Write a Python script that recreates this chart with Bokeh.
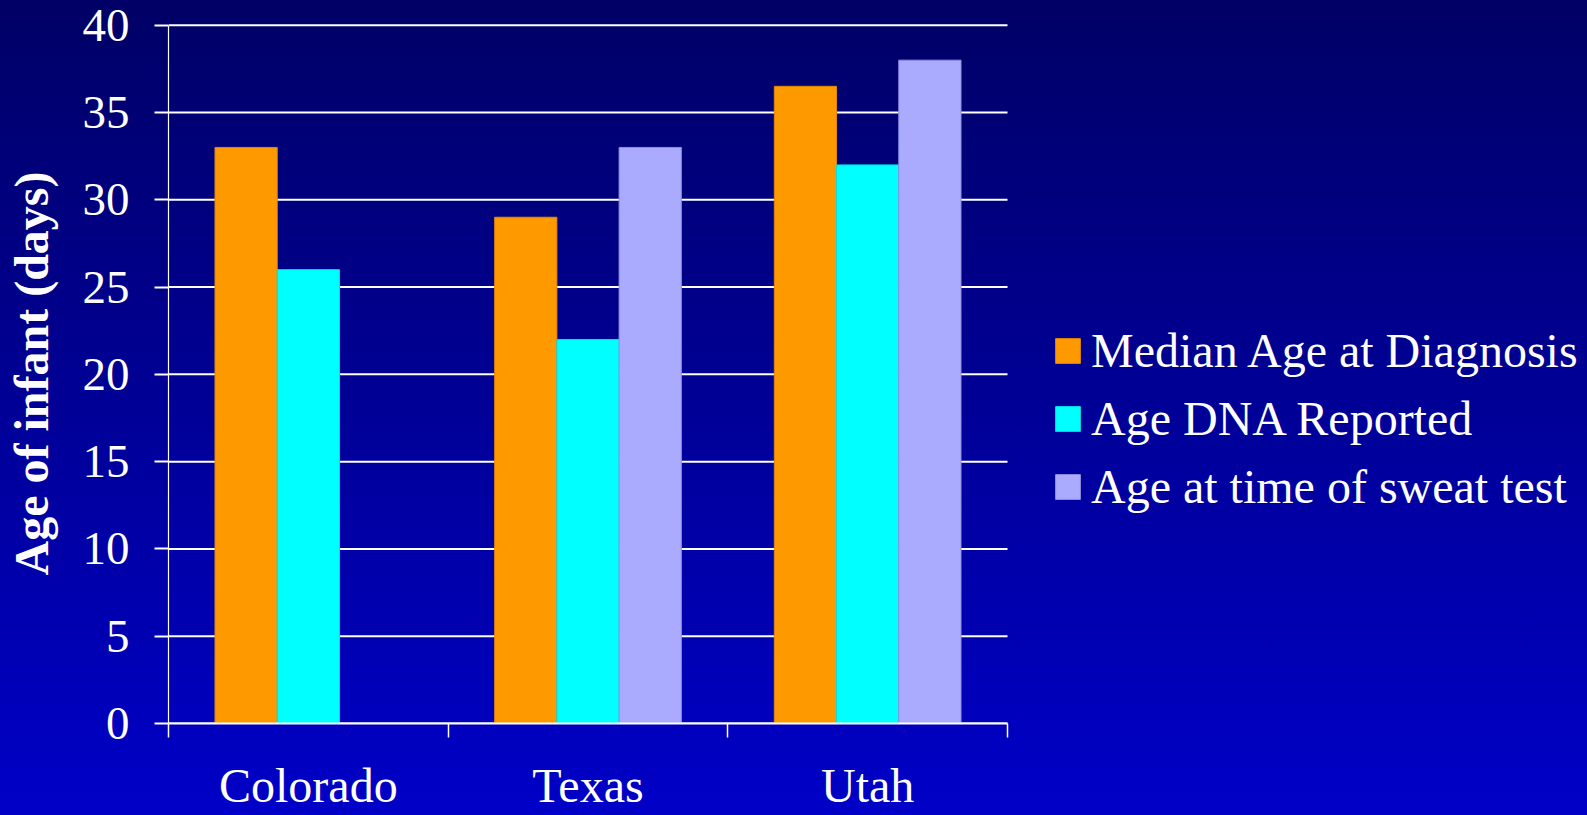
from bokeh.plotting import figure
from bokeh.models import Range1d, FixedTicker, Legend, LegendItem, ColumnDataSource
from bokeh.embed import file_html
from bokeh.resources import INLINE
import math

states = ["Colorado", "Texas", "Utah"]
median_age_diagnosis = [33, 29, 36.5]
age_dna_reported = [26, 22, 32]
age_sweat_test = [float("nan"), 33, 38]
series_names = ["Median Age at Diagnosis", "Age DNA Reported", "Age at time of sweat test"]
series_colors = ["#FF9900", "#00FFFF", "#AAAAFF"]
series_lines = ["#E08800", "#00E0E0", "#9090E0"]
y_ticks = [0, 5, 10, 15, 20, 25, 30, 35, 40]

FONT = "Liberation Serif"
W, H = 1587, 815
LEFT, TOP, BOTTOM = 168, 23, 92
PLOT_W = 839                    # pixel width of the category area
n = len(states)
x_end = n * (W - LEFT) / PLOT_W  # frame spans to the right edge; legend lives inside it

p = figure(width=W, height=H, output_backend="svg", toolbar_location=None,
           x_range=Range1d(0, x_end), y_range=Range1d(0, 40.1),
           min_border_left=LEFT, min_border_right=0, min_border_top=TOP, min_border_bottom=BOTTOM)
p.styles = {"background": "linear-gradient(to bottom, #000066 0%, #0000C8 100%)"}
p.background_fill_alpha = 0
p.border_fill_alpha = 0
p.outline_line_color = None
p.xgrid.visible = False
p.ygrid.visible = False

# horizontal grid lines over the category area only
p.segment(x0=[0] * len(y_ticks), x1=[n] * len(y_ticks), y0=y_ticks, y1=y_ticks,
          line_color="white", line_width=2)

bw = 0.2225
centers = [i + 0.5 for i in range(n)]
renderers = []
for k, (vals, col, lc) in enumerate(zip([median_age_diagnosis, age_dna_reported, age_sweat_test],
                                       series_colors, series_lines)):
    xs = [c + (k - 1) * bw for c in centers]
    src = ColumnDataSource(dict(x=[x for x, t in zip(xs, vals) if not math.isnan(t)],
                                top=[t for t in vals if not math.isnan(t)]))
    r = p.vbar(x="x", top="top", width=bw, bottom=0, source=src,
               fill_color=col, line_color=lc, line_width=1)
    renderers.append(r)

# y axis
ya = p.yaxis[0]
ya.bounds = (0, 40)
ya.ticker = FixedTicker(ticks=y_ticks)
ya.axis_line_color = "white"
ya.axis_line_width = 1.2
ya.major_tick_line_color = "white"
ya.major_tick_line_width = 2
ya.major_tick_in = 0
ya.major_tick_out = 14
ya.minor_tick_line_color = None
ya.major_label_text_font = FONT
ya.major_label_text_font_size = "47px"
ya.major_label_text_color = "white"
ya.major_label_standoff = 25
ya.axis_label = "Age of infant (days)"
ya.axis_label_text_font = FONT
ya.axis_label_text_font_size = "48px"
ya.axis_label_text_font_style = "bold"
ya.axis_label_text_color = "white"
ya.axis_label_standoff = 22

# x axis
xa = p.xaxis[0]
xa.bounds = (0, n)
xa.ticker = FixedTicker(ticks=centers, minor_ticks=list(range(n + 1)))
xa.major_label_overrides = {c: s for c, s in zip(centers, states)}
xa.axis_line_color = "white"
xa.axis_line_width = 2
xa.major_tick_line_color = None
xa.major_tick_in = 0
xa.major_tick_out = 0
xa.minor_tick_line_color = "white"
xa.minor_tick_line_width = 1.5
xa.minor_tick_in = 0
xa.minor_tick_out = 14
xa.major_label_text_font = FONT
xa.major_label_text_font_size = "48px"
xa.major_label_text_color = "white"
xa.major_label_standoff = 21

legend = Legend(items=[LegendItem(label=nm, renderers=[r]) for nm, r in zip(series_names, renderers)],
                location=(884, 209), orientation="vertical")
legend.label_text_font = FONT
legend.label_text_font_size = "48px"
legend.label_text_color = "white"
legend.glyph_width = 31
legend.glyph_height = 31
legend.label_standoff = 8
legend.spacing = 13
legend.padding = 0
legend.margin = 0
legend.border_line_color = None
legend.background_fill_alpha = 0
p.add_layout(legend, "center")

open("out.html", "w").write(file_html(p, INLINE))
